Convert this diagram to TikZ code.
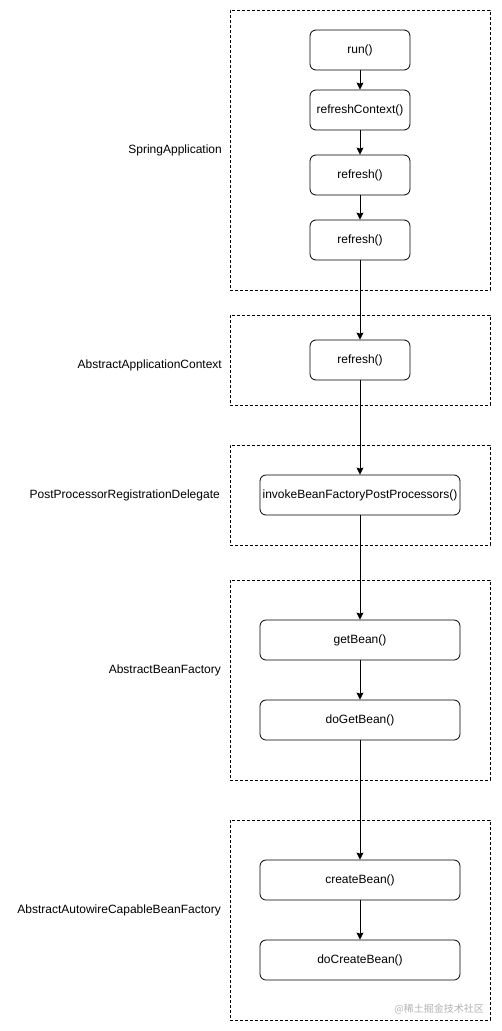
\documentclass[tikz,border=0pt]{standalone}
\usepackage{fontspec}
\setmainfont{Liberation Sans}
\newfontfamily\cjk{Noto Sans CJK SC}
\usetikzlibrary{arrows.meta}
\begin{document}
\begin{tikzpicture}[x=1pt,y=-1pt,
  fn/.style={draw, line width=0.8pt, rounded corners=6pt, inner sep=0pt, minimum height=40pt, font=\fontsize{12}{14}\selectfont},
  grp/.style={draw, line width=0.7pt, dash pattern=on 3pt off 2pt, inner sep=0pt},
  lbl/.style={anchor=east, inner sep=0pt, font=\fontsize{12}{14}\selectfont},
  flow/.style={line width=0.8pt, -{Stealth[length=7pt,width=7pt,inset=1pt]}}]
\useasboundingbox (0,0) rectangle (501,1031);
% groups
\node[grp, minimum width=260pt, minimum height=280pt] (g1) at (360,150) {};
\node[grp, minimum width=260pt, minimum height=90pt] (g2) at (360,360) {};
\node[grp, minimum width=260pt, minimum height=100pt] (g3) at (360,495) {};
\node[grp, minimum width=260pt, minimum height=200pt] (g4) at (360,680) {};
\node[grp, minimum width=260pt, minimum height=200pt] (g5) at (360,920) {};
% labels
\node[lbl] (l1) at (222,150) {SpringApplication};
\node[lbl] (l2) at (222,365) {AbstractApplicationContext};
\node[lbl] (l3) at (220,495) {PostProcessorRegistrationDelegate};
\node[lbl] (l4) at (221,670) {AbstractBeanFactory};
\node[lbl] (l5) at (221,910) {AbstractAutowireCapableBeanFactory};
% functions
\node[fn, minimum width=100pt] (run) at (360,50) {run()};
\node[fn, minimum width=100pt] (rc) at (360,110) {refreshContext()};
\node[fn, minimum width=100pt] (r1) at (360,175) {refresh()};
\node[fn, minimum width=100pt] (r2) at (360,240) {refresh()};
\node[fn, minimum width=100pt] (r3) at (360,360) {refresh()};
\node[fn, minimum width=200pt] (inv) at (360,495) {invokeBeanFactoryPostProcessors()};
\node[fn, minimum width=200pt] (gb) at (360,640) {getBean()};
\node[fn, minimum width=200pt] (dgb) at (360,720) {doGetBean()};
\node[fn, minimum width=200pt] (cb) at (360,880) {createBean()};
\node[fn, minimum width=200pt] (dcb) at (360,960) {doCreateBean()};
% connectors
\draw[flow] (run) -- (rc);
\draw[flow] (rc) -- (r1);
\draw[flow] (r1) -- (r2);
\draw[flow] (r2) -- (r3);
\draw[flow] (r3) -- (inv);
\draw[flow] (inv) -- (gb);
\draw[flow] (gb) -- (dgb);
\draw[flow] (dgb) -- (cb);
\draw[flow] (cb) -- (dcb);
% watermark
\node[anchor=east, inner sep=0pt, text=black!30, font=\cjk\fontsize{10}{12}\selectfont] (wm) at (484,1009) {@稀土掘金技术社区};
\end{tikzpicture}
\end{document}
